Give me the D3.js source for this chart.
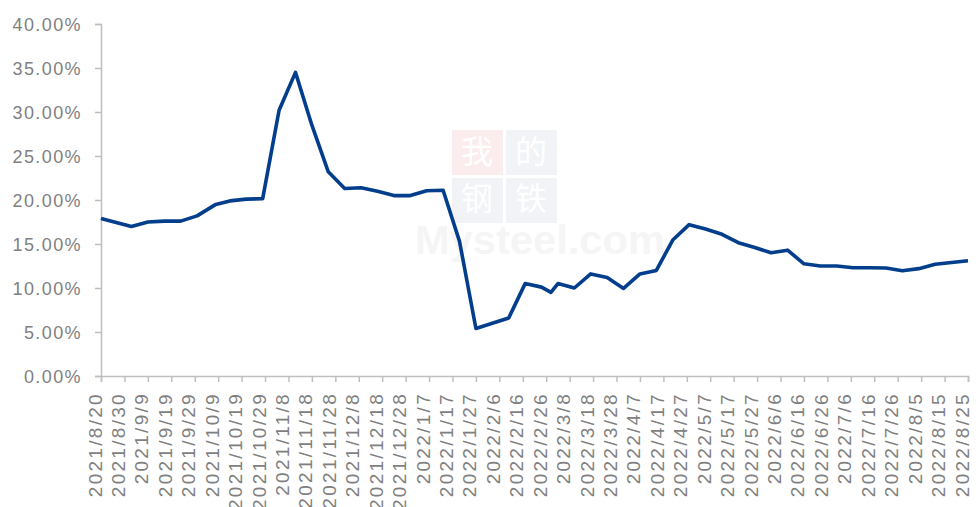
<!DOCTYPE html>
<html>
<head>
<meta charset="utf-8">
<style>
  body, html { margin: 0; padding: 0; background: #fff; }
  svg text { font-family: "Liberation Sans", Arial, sans-serif; }
</style>
</head>
<body>
<svg id="svg" width="979" height="507"></svg>
<script src="https://d3js.org/d3.v7.min.js"></script>
<script>
// weekly observation dates and values (%)
const dates = [
  '2021/8/20', '2021/9/2', '2021/9/9', '2021/9/16', '2021/9/23', '2021/9/30',
  '2021/10/8', '2021/10/14', '2021/10/21', '2021/10/28', '2021/11/4', '2021/11/11',
  '2021/11/18', '2021/11/25', '2021/12/2', '2021/12/9', '2021/12/16', '2021/12/23',
  '2021/12/30', '2022/1/6', '2022/1/13', '2022/1/20', '2022/1/27', '2022/2/10',
  '2022/2/17', '2022/2/24', '2022/2/28', '2022/3/3', '2022/3/10', '2022/3/17',
  '2022/3/24', '2022/3/31', '2022/4/7', '2022/4/14', '2022/4/21', '2022/4/28',
  '2022/5/5', '2022/5/12', '2022/5/19', '2022/5/26', '2022/6/2', '2022/6/9',
  '2022/6/16', '2022/6/23', '2022/6/30', '2022/7/7', '2022/7/14', '2022/7/21',
  '2022/7/28', '2022/8/4', '2022/8/11', '2022/8/18', '2022/8/25'
];
const values = [
  17.9, 17.0, 17.5, 17.6, 17.6, 18.2,
  19.5, 19.9, 20.1, 20.15, 30.2, 34.5,
  28.5, 23.2, 21.3, 21.4, 21.0, 20.5,
  20.5, 21.05, 21.1, 15.3, 5.4, 6.6,
  10.5, 10.1, 9.5, 10.5, 10.0, 11.6,
  11.2, 9.95, 11.6, 12.0, 15.45, 17.2,
  16.7, 16.1, 15.15, 14.6, 14.0, 14.3,
  12.75, 12.5, 12.5, 12.3, 12.3, 12.27,
  11.97, 12.2, 12.7, 12.9, 13.1
];
const xTickLabels = [
  '2021/8/20', '2021/8/30', '2021/9/9', '2021/9/19', '2021/9/29', '2021/10/9',
  '2021/10/19', '2021/10/29', '2021/11/8', '2021/11/18', '2021/11/28', '2021/12/8',
  '2021/12/18', '2021/12/28', '2022/1/7', '2022/1/17', '2022/1/27', '2022/2/6',
  '2022/2/16', '2022/2/26', '2022/3/8', '2022/3/18', '2022/3/28', '2022/4/7',
  '2022/4/17', '2022/4/27', '2022/5/7', '2022/5/17', '2022/5/27', '2022/6/6',
  '2022/6/16', '2022/6/26', '2022/7/6', '2022/7/16', '2022/7/26', '2022/8/5',
  '2022/8/15', '2022/8/25'
];
const yTicks = [0, 5, 10, 15, 20, 25, 30, 35, 40];

const parse = d3.utcParse('%Y/%m/%d');
const fmt = d3.utcFormat('%Y/%-m/%-d');
const data = dates.map((d, i) => ({ date: parse(d), value: values[i] }));
const tickDates = xTickLabels.map(parse);

const mLeft = 101, mRight = 968, mTop = 24, mBottom = 376;
const svg = d3.select('#svg');

const x = d3.scaleUtc()
  .domain([tickDates[0], tickDates[tickDates.length - 1]])
  .range([mLeft, mRight]);
const y = d3.scaleLinear().domain([0, 40]).range([mBottom, mTop]);

// faint watermark
const wm = svg.append('g').attr('opacity', 0.3);
wm.append('rect').attr('x', 452).attr('y', 130).attr('width', 51).attr('height', 45).attr('fill', '#f5c4c4');
wm.append('rect').attr('x', 506).attr('y', 130).attr('width', 51).attr('height', 45).attr('fill', '#d3d9e8');
wm.append('rect').attr('x', 452).attr('y', 178).attr('width', 51).attr('height', 45).attr('fill', '#d3d9e8');
wm.append('rect').attr('x', 506).attr('y', 178).attr('width', 51).attr('height', 45).attr('fill', '#d3d9e8');
const wmChars = ['我', '的', '钢', '铁'];
wmChars.forEach((c, i) => {
  svg.append('text')
    .attr('x', 477 + (i % 2) * 54)
    .attr('y', 163 + Math.floor(i / 2) * 47)
    .attr('text-anchor', 'middle')
    .style('font-family', '"Noto Sans CJK SC"')
    .attr('font-size', 32)
    .attr('fill', '#fff')
    .text(c);
});
svg.append('text')
  .attr('x', 415).attr('y', 254)
  .attr('font-size', 40)
  .attr('font-weight', 'bold')
  .attr('fill', '#f5f5f5')
  .attr('textLength', 250)
  .attr('lengthAdjust', 'spacingAndGlyphs')
  .text('Mysteel.com');

// axes
const yAxis = d3.axisLeft(y).tickValues(yTicks).tickSize(6).tickPadding(13)
  .tickFormat(d => d.toFixed(2) + '%');
const gy = svg.append('g').attr('transform', `translate(${mLeft},0)`).call(yAxis);
gy.select('.domain').attr('stroke', '#bfbfbf').attr('stroke-width', 1.5);
gy.selectAll('.tick line').attr('stroke', '#bfbfbf').attr('stroke-width', 1.5);
gy.selectAll('.tick text')
  .attr('fill', '#7f7f7f').attr('font-size', 18).attr('letter-spacing', 1.4)
  .attr('dy', '0.36em');

const xAxis = d3.axisBottom(x).tickValues(tickDates).tickSize(6).tickPadding(10)
  .tickFormat(fmt);
const gx = svg.append('g').attr('transform', `translate(0,${mBottom})`).call(xAxis);
gx.select('.domain').attr('stroke', '#bfbfbf').attr('stroke-width', 1.5);
gx.selectAll('.tick line').attr('stroke', '#bfbfbf').attr('stroke-width', 1.5);
gx.selectAll('.tick text')
  .attr('fill', '#7f7f7f').attr('font-size', 19).attr('letter-spacing', 2.3)
  .attr('text-anchor', 'end')
  .attr('transform', 'rotate(-90)')
  .attr('x', -16).attr('y', 0).attr('dy', '0');

// line
const line = d3.line()
  .x(d => x(d.date))
  .y(d => y(d.value));
svg.append('path')
  .datum(data)
  .attr('d', line)
  .attr('fill', 'none')
  .attr('stroke', '#033e8c')
  .attr('stroke-width', 3.6)
  .attr('stroke-linejoin', 'round');
</script>
</body>
</html>
